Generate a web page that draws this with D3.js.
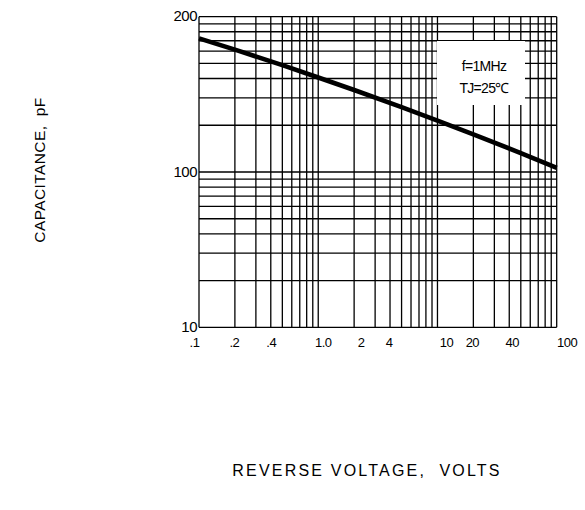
<!DOCTYPE html>
<html><head><meta charset="utf-8">
<script src="https://cdn.jsdelivr.net/npm/d3@7"></script>
<style>
html,body{margin:0;padding:0;background:#fff;}
svg{display:block;font-family:"Liberation Sans",Arial,Helvetica,sans-serif;}
text{white-space:pre;}
</style>
</head><body>
<svg id="chart" width="585" height="510"></svg>
<script>
// ---- data ----
const voltage = [0.1, 0.2, 0.5, 1, 2, 5, 10, 20, 50, 100];
const capacitance = [181.6, 172.7, 161.1, 152.5, 144.2, 133.6, 125.8, 118.3, 108.8, 101.9];
const xTickValues = [0.1, 0.2, 0.4, 1, 2, 4, 10, 20, 40, 100];
const xTickLabels = [".1", ".2", ".4", "1.0", "2", "4", "10", "20", "40", "100"];
const yTickValues = [10, 100, 200];
const yTickLabels = ["10", "100", "200"];
const legendLines = ["f=1MHz", "TJ=25\u2103"];
const xTitle = "REVERSE VOLTAGE,  VOLTS";
const yTitle = "CAPACITANCE,  pF";

// ---- layout ----
const L = 199, R = 556.7, T = 16.7, B = 327.3;
const MID = (T + B) / 2;
const svg = d3.select("#chart");

const x = d3.scaleLog().domain([0.1, 100]).range([L, R]);
// printed axis: 10..100 one decade, 100..200 stretched over the upper decade
const y = d3.scaleLog().domain([10, 100, 200]).range([B, MID, T]);
// underlying 2-decade log paper for the horizontal rulings
const paperY = d3.scaleLog().domain([10, 1000]).range([B, T]);

const grid = svg.append("g").attr("stroke", "#000").attr("stroke-width", 1.3);
grid.selectAll("line.v").data(x.ticks()).join("line")
  .attr("class", "v")
  .attr("x1", d => x(d)).attr("x2", d => x(d))
  .attr("y1", T).attr("y2", B);
grid.selectAll("line.h").data(paperY.ticks()).join("line")
  .attr("class", "h")
  .attr("x1", L).attr("x2", R)
  .attr("y1", d => paperY(d)).attr("y2", d => paperY(d));

// legend box (white patch over the grid)
const lg = svg.append("g");
lg.append("rect").attr("x", 437).attr("y", 41).attr("width", 88).attr("height", 64).attr("fill", "#fff");
lg.selectAll("text").data(legendLines).join("text")
  .attr("x", 484).attr("y", (d, i) => 71 + i * 21.5)
  .attr("text-anchor", "middle")
  .attr("font-size", 14).attr("letter-spacing", "-0.7px")
  .attr("fill", "#000")
  .text(d => d);

// curve
const pts = voltage.map((v, i) => [v, capacitance[i]]);
svg.append("path").datum(pts)
  .attr("fill", "none").attr("stroke", "#000").attr("stroke-width", 4.6)
  .attr("d", d3.line().x(d => x(d[0])).y(d => y(d[1])).curve(d3.curveMonotoneX));

// axes (labels only)
const xNudge = {".1": -5, ".2": -1, ".4": 0, "1.0": 4.5, "2": 6.5, "4": -1.5, "10": 8.5, "20": -1.5, "40": 2.5, "100": 10};
const xa = svg.append("g").attr("transform", `translate(0,${B})`)
  .call(d3.axisBottom(x).tickValues(xTickValues).tickFormat((d, i) => xTickLabels[i]).tickSize(0));
xa.select(".domain").remove();
xa.selectAll("text")
  .attr("font-family", null).attr("font-size", 13).attr("letter-spacing", "-0.5px")
  .attr("fill", "#000").attr("y", 19.3).attr("dy", 0)
  .attr("dx", function () { return xNudge[this.textContent] || 0; });

const ya = svg.append("g").attr("transform", `translate(${L},0)`)
  .call(d3.axisLeft(y).tickValues(yTickValues).tickFormat((d, i) => yTickLabels[i]).tickSize(0).tickPadding(2));
ya.select(".domain").remove();
ya.selectAll("text")
  .attr("font-family", null).attr("font-size", 15).attr("letter-spacing", "-0.5px")
  .attr("fill", "#000").attr("dy", "0.28em");

// titles
svg.append("text").attr("x", 367).attr("y", 476).attr("text-anchor", "middle")
  .attr("font-size", 16).attr("letter-spacing", "2.2px").attr("fill", "#000").text(xTitle);
svg.append("text").attr("transform", "translate(45,170) rotate(-90)").attr("text-anchor", "middle")
  .attr("font-size", 15.5).attr("letter-spacing", "0.4px").attr("fill", "#000").text(yTitle);
</script>
</body></html>
